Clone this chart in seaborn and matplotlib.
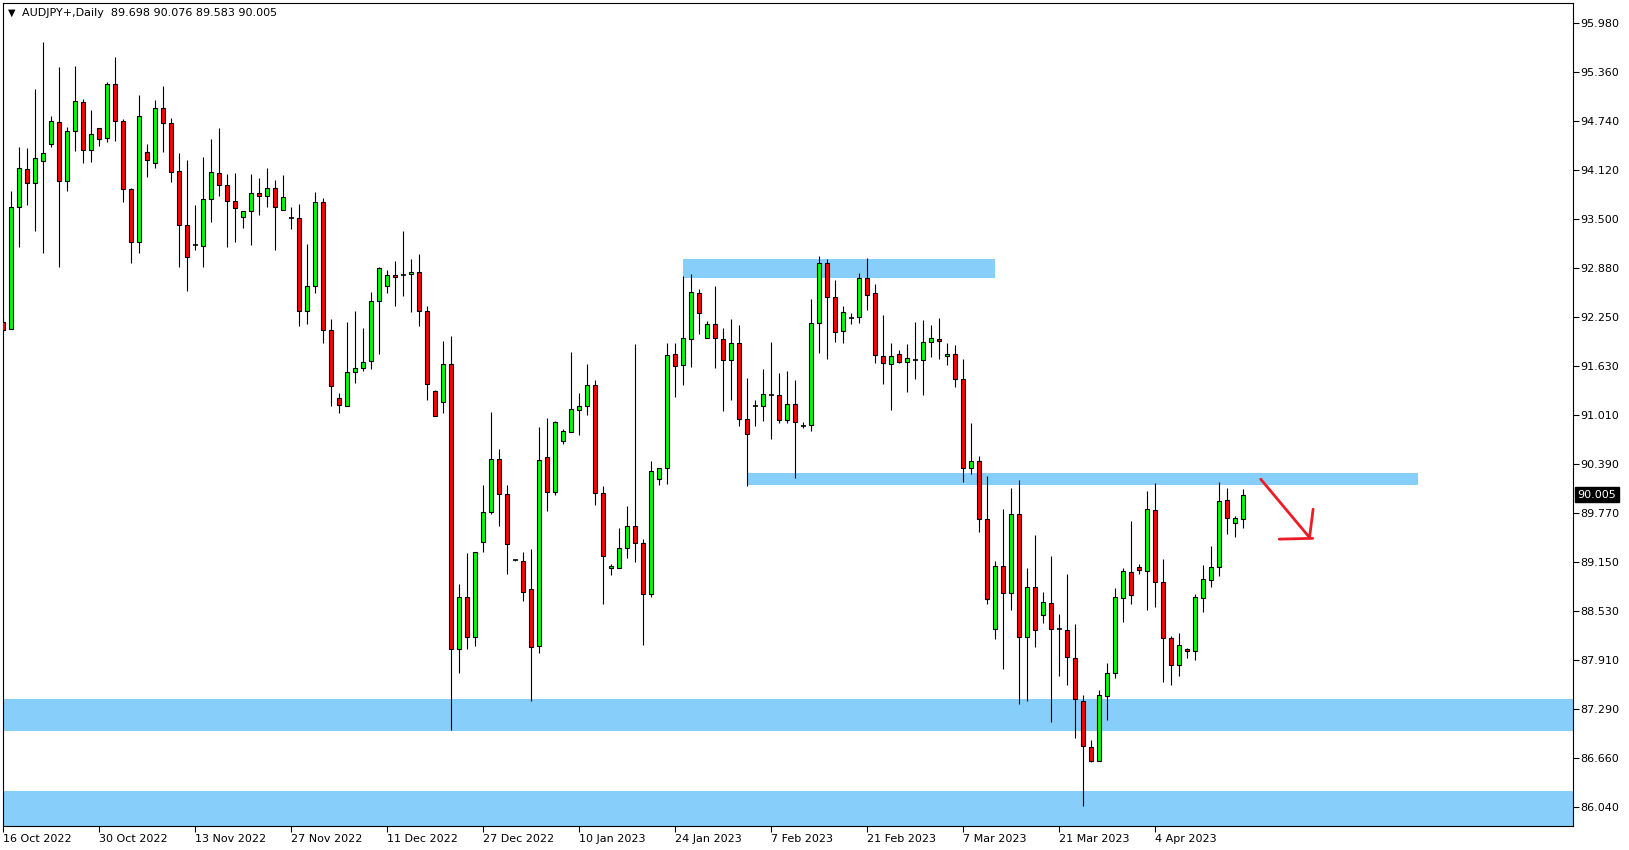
import matplotlib
matplotlib.use("Agg")
import matplotlib.pyplot as plt
import matplotlib.transforms as mtransforms
import numpy as np
import pandas as pd
import seaborn as sns

# AUDJPY daily candles
symbol = "AUDJPY+,Daily"

opens = [92.197, 92.100, 93.646, 94.128, 93.959, 94.230, 94.445, 94.724, 93.976, 94.610,
         94.978, 94.369, 94.648, 94.521, 95.206, 94.737, 93.875, 93.203, 94.344, 94.204,
         94.902, 94.712, 94.103, 93.418, 93.169, 93.152, 93.748, 94.078, 93.926, 93.723,
         93.520, 93.596, 93.824, 93.786, 93.888, 93.609, 93.507, 93.507, 92.328, 92.645,
         93.710, 92.087, 91.225, 91.123, 91.555, 91.605, 91.694, 92.455, 92.645, 92.784,
         92.789, 92.797, 92.822, 92.328, 91.314, 91.174, 91.655, 88.042, 88.701, 88.202,
         89.399, 89.779, 90.451, 90.007, 89.170, 89.158, 88.803, 88.080, 90.476, 90.033,
         90.679, 90.793, 91.072, 91.123, 91.389, 90.020, 89.069, 89.069, 89.322, 89.601,
         89.386, 88.739, 90.206, 90.345, 91.782, 91.643, 91.973, 92.556, 91.985, 92.163,
         91.973, 91.706, 91.922, 90.958, 91.131, 91.123, 91.267, 91.262, 90.945, 91.148,
         90.878, 90.882, 92.175, 92.936, 92.505, 92.074, 92.247, 92.251, 92.747, 92.557,
         91.758, 91.656, 91.783, 91.682, 91.715, 91.707, 91.935, 91.973, 91.758, 91.783,
         91.466, 90.338, 90.426, 89.691, 88.296, 89.095, 88.753, 89.754, 88.195, 88.829,
         88.474, 88.626, 88.296, 88.283, 87.928, 87.383, 86.800, 86.622, 87.447, 87.738,
         88.689, 89.019, 89.082, 89.032, 89.805, 88.892, 88.182, 87.840, 88.043, 88.017,
         88.689, 88.917, 89.082, 89.932, 89.640, 89.698]
highs = [92.260, 93.849, 94.407, 94.395, 95.143, 95.739, 94.805, 95.422, 94.661, 95.439,
         95.016, 94.881, 94.648, 95.231, 95.548, 94.762, 93.887, 95.067, 94.445, 95.003,
         95.181, 94.775, 94.331, 94.242, 93.672, 94.280, 94.509, 94.648, 94.069, 94.078,
         93.596, 94.069, 94.019, 94.150, 93.993, 94.057, 93.647, 93.689, 93.182, 93.837,
         93.761, 92.227, 91.288, 92.188, 92.332, 92.112, 92.569, 92.886, 92.848, 92.966,
         93.342, 92.987, 93.051, 92.391, 91.326, 91.948, 92.015, 88.866, 89.259, 89.272,
         90.126, 91.047, 90.578, 90.126, 89.180, 89.272, 89.310, 90.857, 90.971, 90.933,
         90.831, 91.808, 91.288, 91.655, 91.453, 90.109, 89.120, 89.576, 89.855, 91.909,
         89.437, 90.426, 90.345, 91.922, 91.922, 92.776, 92.801, 92.606, 92.205, 92.649,
         92.112, 92.226, 92.150, 91.478, 91.199, 91.592, 91.934, 91.541, 91.567, 91.453,
         90.920, 92.480, 93.025, 92.987, 92.721, 92.391, 92.302, 92.809, 93.000, 92.675,
         92.278, 91.923, 91.834, 91.910, 92.189, 92.214, 92.151, 92.240, 91.923, 91.897,
         91.720, 90.908, 90.494, 90.240, 89.158, 89.818, 90.084, 90.185, 89.070, 89.488,
         88.765, 89.222, 88.486, 88.994, 88.360, 87.459, 86.889, 87.523, 87.865, 88.816,
         89.070, 89.670, 89.120, 90.046, 90.147, 89.184, 88.207, 88.245, 88.055, 88.740,
         89.108, 89.349, 90.160, 90.084, 89.729, 90.076]
lows = [92.091, 92.100, 93.148, 93.680, 93.351, 93.063, 94.407, 92.894, 93.858, 94.365,
        94.213, 94.226, 94.428, 94.479, 94.492, 93.718, 92.945, 93.072, 94.035, 94.149,
        94.352, 93.972, 92.894, 92.590, 93.106, 92.894, 93.465, 93.794, 93.148, 93.211,
        93.389, 93.173, 93.554, 93.655, 93.110, 93.609, 93.376, 92.138, 92.172, 92.556,
        91.922, 91.123, 91.035, 91.123, 91.415, 91.567, 91.601, 91.783, 92.556, 92.391,
        92.518, 92.315, 92.138, 91.199, 90.997, 91.035, 87.015, 87.746, 88.050, 88.088,
        89.276, 89.758, 89.610, 88.997, 89.160, 88.659, 87.391, 88.000, 89.800, 90.003,
        90.650, 90.793, 90.764, 91.017, 89.876, 88.612, 88.989, 89.069, 89.204, 89.153,
        88.101, 88.701, 90.126, 90.142, 91.246, 91.398, 91.626, 92.044, 91.985, 91.605,
        91.068, 91.208, 90.869, 90.117, 90.869, 90.941, 90.713, 90.907, 90.907, 90.219,
        90.844, 90.806, 91.795, 91.719, 91.934, 91.922, 92.163, 92.175, 92.345, 91.669,
        91.411, 91.082, 91.669, 91.310, 91.475, 91.263, 91.754, 91.728, 91.644, 91.365,
        90.160, 90.262, 89.535, 88.613, 88.169, 87.789, 88.537, 87.345, 87.383, 88.068,
        88.372, 87.117, 87.700, 87.586, 86.914, 86.052, 86.610, 86.622, 87.142, 87.675,
        88.385, 88.613, 88.994, 88.537, 88.575, 87.624, 87.586, 87.700, 87.928, 87.903,
        88.512, 88.829, 88.968, 89.501, 89.463, 89.583]
closes = [92.091, 93.646, 94.141, 93.959, 94.268, 94.331, 94.737, 93.976, 94.610, 94.991,
          94.369, 94.572, 94.509, 95.206, 94.737, 93.875, 93.203, 94.800, 94.251, 94.902,
          94.712, 94.090, 93.418, 93.013, 93.169, 93.748, 94.090, 93.925, 93.723, 93.634,
          93.596, 93.824, 93.786, 93.888, 93.647, 93.773, 93.507, 92.328, 92.645, 93.710,
          92.087, 91.377, 91.136, 91.555, 91.605, 91.681, 92.455, 92.873, 92.784, 92.759,
          92.789, 92.822, 92.328, 91.402, 90.997, 91.656, 88.042, 88.701, 88.202, 89.272,
          89.779, 90.451, 90.007, 89.373, 89.170, 88.765, 88.067, 90.438, 90.033, 90.920,
          90.806, 91.085, 91.123, 91.389, 90.020, 89.221, 89.094, 89.322, 89.601, 89.386,
          88.739, 90.299, 90.345, 91.770, 91.630, 91.985, 92.568, 92.302, 92.163, 91.985,
          91.706, 91.922, 90.958, 90.768, 91.131, 91.275, 91.267, 90.945, 91.148, 90.920,
          90.878, 92.175, 92.936, 92.505, 92.061, 92.315, 92.247, 92.746, 92.531, 91.770,
          91.669, 91.758, 91.682, 91.732, 91.715, 91.935, 91.986, 91.948, 91.783, 91.466,
          90.338, 90.426, 89.691, 88.677, 89.095, 88.753, 89.754, 88.195, 88.829, 88.283,
          88.638, 88.296, 88.296, 87.941, 87.409, 86.813, 86.622, 87.459, 87.738, 88.702,
          89.032, 88.727, 89.044, 89.818, 88.892, 88.182, 87.840, 88.093, 88.017, 88.702,
          88.930, 89.082, 89.919, 89.704, 89.704, 90.005]

date_labels = ["16 Oct 2022", "30 Oct 2022", "13 Nov 2022", "27 Nov 2022", "11 Dec 2022",
               "27 Dec 2022", "10 Jan 2023", "24 Jan 2023", "7 Feb 2023", "21 Feb 2023",
               "7 Mar 2023", "21 Mar 2023", "4 Apr 2023"]
price_ticks = [95.980, 95.360, 94.740, 94.120, 93.500, 92.880, 92.250, 91.630, 91.010,
               90.390, 89.770, 89.150, 88.530, 87.910, 87.290, 86.660, 86.040]

# supply / demand rectangles (price top, price bottom, first bar, last bar)
zone_tops = [92.992, 90.278, 87.413, 86.246]
zone_bottoms = [92.754, 90.126, 87.011, 85.500]
zone_starts = [85.0, 93.0, -5.0, -5.0]
zone_ends = [124.0, 176.8, 250.0, 250.0]

# hand drawn red arrow
arrow_x = [157.2, 163.3, 163.75]
arrow_y = [90.20, 89.46, 89.82]
arrow_head_x = [159.5, 163.7]
arrow_head_y = [89.44, 89.45]

df = pd.DataFrame({"open": opens, "high": highs, "low": lows, "close": closes})
df["bar"] = np.arange(len(df))

sns.set_style("white")
plt.rcParams["font.family"] = ["DejaVu Sans"]

W, H = 1629, 850
fig = plt.figure(figsize=(W / 100, H / 100), dpi=100)
ax = fig.add_axes([2.7 / W, 24 / H, 1570 / W, 823.3 / H])

# zones in the background
for t, b, s, e in zip(zone_tops, zone_bottoms, zone_starts, zone_ends):
    ax.fill_between([s, e], b, t, color="#87cefa", lw=0, zorder=1)

# wicks
ax.vlines(df["bar"], df["low"], df["high"], color="black", lw=0.8, zorder=2)

up = df[df["close"] > df["open"]]
down = df[df["close"] < df["open"]]
flat = df[df["close"] == df["open"]]
ax.bar(up["bar"], up["close"] - up["open"], bottom=up["open"], width=0.5,
       color="#00ff00", edgecolor="black", lw=0.8, zorder=3)
ax.bar(down["bar"], down["open"] - down["close"], bottom=down["close"], width=0.5,
       color="#ff0000", edgecolor="black", lw=0.8, zorder=3)
ax.hlines(flat["close"], flat["bar"] - 0.33, flat["bar"] + 0.33, color="black", lw=1.2, zorder=3)

# arrow
ax.plot(arrow_x, arrow_y, color="#ed1c24", lw=2.0, solid_capstyle="round", zorder=5)
ax.plot(arrow_head_x, arrow_head_y, color="#ed1c24", lw=2.0, solid_capstyle="round", zorder=5)

ax.set_xlim(-0.075, 196.2)
ax.set_ylim(85.803, 96.241)

ax.yaxis.tick_right()
ax.set_yticks(price_ticks)
ax.set_yticklabels([f"{v:.3f}" for v in price_ticks])
ax.set_xticks(np.arange(len(date_labels)) * 12)
ax.set_xticklabels(date_labels, ha="left")
ax.tick_params(axis="y", direction="out", length=4, width=0.8, labelsize=8, pad=1.5,
               colors="black", right=True, left=False)
ax.tick_params(axis="x", direction="out", length=4, width=0.8, labelsize=8, pad=2,
               colors="black", bottom=True)
for sp in ax.spines.values():
    sp.set_color("black")
    sp.set_linewidth(0.8)
ax.grid(False)

# current price marker
trans = mtransforms.blended_transform_factory(ax.transAxes, ax.transData)
ax.text(1.0 + 5 / 1570, closes[-1], f"{closes[-1]:.3f}", transform=trans, ha="left",
        va="center", fontsize=8, color="white", clip_on=False,
        bbox=dict(boxstyle="square,pad=0.2", fc="black", ec="black"))

# header
fig.text(8 / W, 1 - 13 / H, "\u25bc", fontsize=7, va="center", ha="left", color="black")
fig.text(22 / W, 1 - 13 / H,
         f"{symbol}  {opens[-1]:.3f} {highs[-1]:.3f} {lows[-1]:.3f} {closes[-1]:.3f}",
         fontsize=8, va="center", ha="left", color="black")

fig.savefig("out.png", dpi=100)
